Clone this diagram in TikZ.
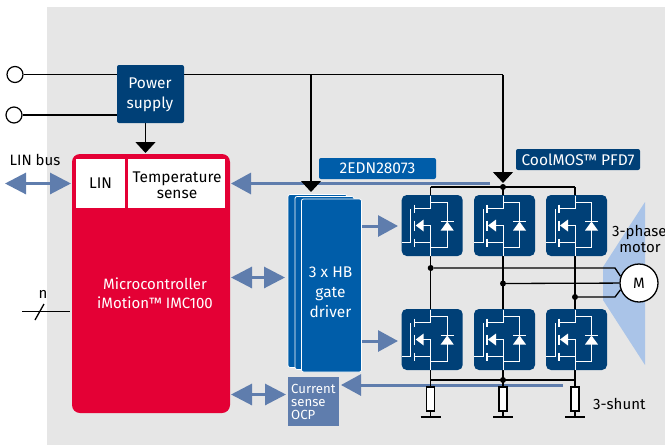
\documentclass[tikz,border=0pt]{standalone}
\usepackage{fontspec}
\usepackage{xcolor}
\setmainfont{Fira Sans}
\usetikzlibrary{arrows.meta,backgrounds}

\definecolor{panelgray}{HTML}{E6E6E6}
\definecolor{darkblue}{HTML}{004077}
\definecolor{midblue}{HTML}{005DA9}
\definecolor{linkblue}{HTML}{5F7DAD}
\definecolor{paleblue}{HTML}{AAC4E8}
\definecolor{ucred}{HTML}{E40035}

\tikzset{
	block/.style={inner sep=0pt, align=center, font=\fontsize{15.5}{19.5}\selectfont},
	darkbox/.style={block, fill=darkblue, text=white, rounded corners=2pt},
	midbox/.style={block, fill=midblue, text=white, rounded corners=2pt},
	whitebox/.style={block, fill=white, text=black},
	mosbox/.style={fill=darkblue, rounded corners=5pt, minimum width=61pt, minimum height=61pt, inner sep=0pt},
	stackbox/.style={midbox, draw=white, line width=0.8pt, minimum height=173pt},
	terminal/.style={circle, draw=black, fill=white, line width=1.2pt, minimum size=16pt, inner sep=0pt},
	junction/.style={circle, fill=black, minimum size=6pt, inner sep=0pt},
	shunt/.style={draw=black, fill=white, line width=1.3pt, minimum width=8pt, minimum height=24pt, inner sep=0pt},
	label/.style={inner sep=0pt, align=center, font=\fontsize{15}{16}\selectfont},
	wire/.style={draw=black, line width=1.3pt},
	feed/.style={wire, -{Triangle[length=11pt,width=20pt]}},
	busarrow/.style={draw=linkblue, line width=3pt, {Triangle[length=21pt,width=21pt]}-{Triangle[length=21pt,width=21pt]}},
	sigarrow/.style={draw=linkblue, line width=3pt, -{Triangle[length=20pt,width=21pt]}},
	mosfet/.pic={
		% origin is the drain/source line, y of the box centre
		\draw[white, line width=1pt] (-20,17) -- (-20,-17) (0,-30) -- (0,-17) -- (-16,-17);
		\draw[white, line width=1pt] (-29,17) -- (-20,17);
		\draw[white, line width=1pt] (0,30) -- (0,17) -- (-16,17);
		\draw[white, line width=1pt] (0,17) -- (0,0) -- (-8,0);
		\fill[white] (-15,0) -- (-7,-6) -- (-7,6) -- cycle;
		\draw[white, line width=1.2pt] (-16,-21) -- (-16,-13) (-16,-5) -- (-16,5) (-16,13) -- (-16,21);
		\draw[white, line width=1pt] (0,-23) -- (16.5,-23) -- (16.5,22) -- (0,22);
		\fill[white] (16.5,-4) -- (10,5) -- (23,5) -- cycle;
		\draw[white, line width=1.2pt] (10,-4) -- (23,-4);
	}
}

\begin{document}
\begin{tikzpicture}[x=1pt,y=-1pt]
	\useasboundingbox (0,0) rectangle (665,445);
	\clip (0,0) rectangle (665,445);

	\node[terminal] (vplus) at (15,74.5) {};
	\node[terminal] (vminus) at (14,115) {};
	\node[darkbox, minimum width=67pt, minimum height=58pt] (supply) at (150.5,94) {};
	\node[block, text=white] (supplylabel) at (150,95) {Power\\supply};

	\node[block, fill=ucred, text=white, rounded corners=8pt, minimum width=158pt, minimum height=259pt] (uc) at (151,283.5) {};
	\node[whitebox, minimum width=49pt, minimum height=49pt] (lin) at (100.5,183.5) {LIN};
	\node[whitebox, minimum width=97pt, minimum height=49pt] (temp) at (176.5,183.5) {};
	\node[label, font=\fontsize{15.5}{16}\selectfont] (templabel) at (177,185) {Temperature\\sense};
	\node[block, text=white, font=\fontsize{15}{19.5}\selectfont] (uclabel) at (155,293) {Microcontroller\\iMotion™ IMC100};

	\node[midbox, minimum width=117pt, minimum height=21pt] (gatepart) at (377.5,168.5) {2EDN28073};
	\node[darkbox, minimum width=124pt, minimum height=21pt] (fetpart) at (578,159.5) {CoolMOS™ PFD7};

	\node[stackbox, minimum width=59pt] (drvc) at (317.5,281) {};
	\node[stackbox, minimum width=59pt] (drvb) at (324.5,283) {};
	\node[stackbox, minimum width=60pt] (drva) at (331.5,285.5) {};
	\node[block, text=white, font=\fontsize{15.5}{20}\selectfont] (drvlabel) at (330.5,292) {3 x HB\\gate\\driver};

	\node[block, fill=linkblue, minimum width=51pt, minimum height=49pt] (ocp) at (313.5,401.5) {};
	\node[block, text=white, align=left, anchor=west, font=\fontsize{13.2}{13}\selectfont] (ocplabel) at (291,401.5) {Current\\sense\\OCP};

	\foreach \col/\xpos in {1/430.7, 2/503, 3/575} {
		\node[mosbox] (qh\col) at (\xpos+1.5,225.5) {};
		\node[mosbox] (ql\col) at (\xpos+1.5,339.5) {};
		\pic at (\xpos,225.5) {mosfet};
		\pic at (\xpos,339.5) {mosfet};
		\coordinate (hbtop\col) at (\xpos,187);
		\coordinate (hbbot\col) at (\xpos,380);
		\node[shunt] (rs\col) at (\xpos,399) {};
		\coordinate (gnd\col) at (\xpos,417);
		\draw[wire] (\xpos-10,417) -- (\xpos+10,417);
	}

	\node[circle, draw=black, fill=white, line width=1.3pt, minimum size=38pt, inner sep=0pt, font=\fontsize{15}{16}\selectfont] (motor) at (639,283) {M};

	\node[junction] (jtop) at (hbtop2) {};
	\node[junction] (jbot) at (hbbot2) {};
	\node[junction] (ju) at (430.7,268) {};
	\node[junction] (jv) at (503,283.5) {};
	\node[junction] (jw) at (575,297) {};

	\node[label] (linbus) at (35,160) {LIN bus};
	\node[label] (nlabel) at (43,294) {n};
	\node[label, anchor=west] (motorlabel) at (612,232) {3-phasen};
	\node[label] (motorlabelb) at (640,248) {motor};
	\node[label, anchor=west] (shuntlabel) at (593,404) {3-shunt};

	\coordinate (lintap) at (5,183.5);
	\coordinate (sensetap) at (490,183.5);
	\coordinate (ocptap) at (563,385);
	\coordinate (nleft) at (22,311.5);
	\coordinate (nright) at (70,311.5);
	\coordinate (gatehi) at (362,226);
	\coordinate (gatelo) at (362,341);
	\coordinate (railend) at (503,74.5);
	\coordinate (drvtap) at (311,74.5);

	\begin{scope}[on background layer]
		\fill[panelgray] (47,7) rectangle (665,445);
		\fill[paleblue] (645,202) -- (603,267) -- (603,300) -- (645,365) -- cycle;

		\draw[busarrow] (lintap) -- (71,183.5);
		\draw[busarrow] (231,277.5) -- (285,277.5);
		\draw[busarrow] (231,394.5) -- (286,394.5);
		\draw[sigarrow] (sensetap) -- (231,183.5);
		\draw[sigarrow] (ocptap) -- (341,385);
		\draw[sigarrow] (gatehi) -- (398,226);
		\draw[sigarrow] (gatelo) -- (398,341);

		\draw[wire] (vplus) -- (supply.west |- vplus);
		\draw[wire] (vminus) -- (supply.west |- vminus);
		\draw[wire] (supply.east |- vplus) -- (railend);
		\draw[feed] (railend) -- (503,183);
		\draw[feed] (drvtap) -- (311,192);
		\draw[feed] (145.5,123) -- (145.5,153);

		\draw[wire] (hbtop1) -- (hbtop3);
		\draw[wire] (hbbot1) -- (hbbot3);
		\foreach \col in {1,2,3} {
			\draw[wire] (hbtop\col) -- (hbbot\col);
			\draw[wire] (hbbot\col) -- (rs\col);
			\draw[wire] (rs\col) -- (gnd\col);
		}
		\draw[wire] (ju) -- (615,268) -- (motor.160);
		\draw[wire] (jv) -- (motor);
		\draw[wire] (jw) -- (615,297) -- (motor.200);

		\draw[wire] (nleft) -- (nright);
		\draw[wire] (35,320) -- (44,304);
	\end{scope}
\end{tikzpicture}
\end{document}
